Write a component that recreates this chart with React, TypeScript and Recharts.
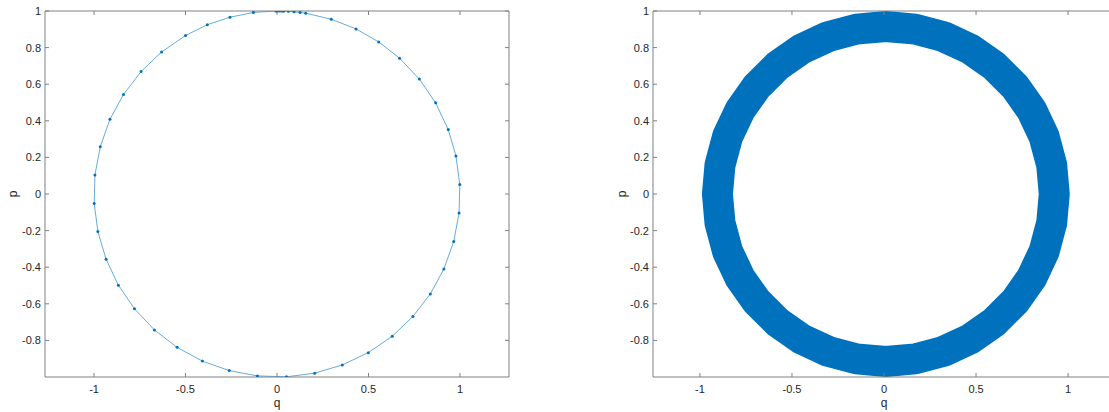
import { LineChart, Line, XAxis, YAxis } from 'recharts'

// left panel: trajectory samples (q, p)
const leftQ = [
  0.0, 0.012, 0.024, 0.036, 0.062, 0.093, 0.126, 0.157, 0.297, 0.432, 0.556, 0.67, 0.778, 0.867,
  0.936, 0.978, 0.999, 0.995, 0.966, 0.912, 0.838, 0.743, 0.63, 0.499, 0.357, 0.206, 0.052,
  -0.107, -0.261, -0.408, -0.546, -0.67, -0.779, -0.867, -0.934, -0.979, -0.999, -0.995,
  -0.966, -0.913, -0.839, -0.743, -0.631, -0.5, -0.381, -0.257, -0.129, -0.006,
]
const leftP = [
  1.0, 1.0, 1.0, 0.999, 0.998, 0.996, 0.992, 0.988, 0.955, 0.902, 0.831, 0.742, 0.628, 0.498,
  0.352, 0.208, 0.052, -0.104, -0.259, -0.41, -0.546, -0.669, -0.777, -0.867, -0.934, -0.979,
  -0.999, -0.994, -0.965, -0.913, -0.838, -0.743, -0.627, -0.498, -0.357, -0.205, -0.052,
  0.104, 0.258, 0.408, 0.544, 0.669, 0.776, 0.866, 0.925, 0.966, 0.992, 1.0,
]

// right panel: thick ring vertices
const rightQ = [
  0.01, 0.169, 0.323, 0.468, 0.598, 0.711, 0.802, 0.87, 0.911, 0.925, 0.911, 0.87, 0.802, 0.711,
  0.598, 0.468, 0.323, 0.169, 0.01, -0.149, -0.303, -0.448, -0.578, -0.691, -0.782, -0.85,
  -0.891, -0.905, -0.891, -0.85, -0.782, -0.691, -0.578, -0.448, -0.303, -0.149, 0.01,
]
const rightP = [
  0.915, 0.901, 0.86, 0.792, 0.701, 0.588, 0.458, 0.313, 0.159, 0.0, -0.159, -0.313, -0.458,
  -0.588, -0.701, -0.792, -0.86, -0.901, -0.915, -0.901, -0.86, -0.792, -0.701, -0.588,
  -0.458, -0.313, -0.159, 0.0, 0.159, 0.313, 0.458, 0.588, 0.701, 0.792, 0.86, 0.901, 0.915,
]

const xTicks = [-1, -0.5, 0, 0.5, 1]
const yTicks = [-0.8, -0.6, -0.4, -0.2, 0, 0.2, 0.4, 0.6, 0.8, 1]

const BLUE = '#0072BD'
const AXIS = '#808080'
const TEXT = '#262626'
const FONT = '"Liberation Sans", Arial, Helvetica, sans-serif'

const tickStyle = { fill: TEXT, fontSize: 11, fontFamily: FONT }
const blank = () => ''

function Axes({ xDomain, yWidth }: { xDomain: [number, number]; yWidth: number }) {
  return [
    <XAxis key="xb" xAxisId="b" dataKey="q" type="number" domain={xDomain} ticks={xTicks}
      allowDataOverflow height={35} stroke={AXIS} tickSize={-4} tickMargin={12} tick={tickStyle} />,
    <XAxis key="xt" xAxisId="t" orientation="top" dataKey="q" type="number" domain={xDomain}
      ticks={xTicks} allowDataOverflow height={1} stroke={AXIS} tickSize={-4} tickFormatter={blank} />,
    <YAxis key="yl" yAxisId="l" type="number" domain={[-1, 1]} ticks={yTicks} allowDataOverflow
      width={yWidth} stroke={AXIS} tickSize={-4} tickMargin={8} tick={tickStyle} />,
    <YAxis key="yr" yAxisId="r" orientation="right" type="number" domain={[-1, 1]} ticks={yTicks}
      allowDataOverflow width={1} stroke={AXIS} tickSize={-4} tickFormatter={blank} />,
  ]
}

const label = (left: number, top: number, text: string, rotate = false) => (
  <div style={{
    position: 'absolute', left, top, fontFamily: FONT, fontSize: 12, color: TEXT,
    transform: `translate(-50%, -50%)${rotate ? ' rotate(-90deg)' : ''}`, lineHeight: 1,
  }}>{text}</div>
)

export default function App() {
  const leftData = leftQ.map((q, i) => ({ q, p: leftP[i] }))
  const rightData = rightQ.map((q, i) => ({ q, p: rightP[i] }))

  return (
    <div style={{ position: 'fixed', left: 0, top: 0, width: 1109, height: 412, overflow: 'hidden', background: '#fff' }}>
      <div style={{ position: 'absolute', left: 0, top: 0 }}>
        <LineChart width={510} height={412} data={leftData} margin={{ top: 10, right: 0, bottom: 0, left: 0 }}>
          {Axes({ xDomain: [-1.268, 1.268], yWidth: 45 })}
          <Line xAxisId="b" yAxisId="l" dataKey="p" type="linear" stroke={BLUE} strokeWidth={0.8}
            strokeOpacity={0.75} dot={{ r: 1.5, fill: BLUE, stroke: 'none', fillOpacity: 1 }}
            isAnimationActive={false} />
        </LineChart>
      </div>
      <div style={{ position: 'absolute', left: 590, top: 0 }}>
        <LineChart width={526} height={412} data={rightData} margin={{ top: 10, right: 0, bottom: 0, left: 0 }}>
          {Axes({ xDomain: [-1.255, 1.255], yWidth: 63 })}
          <Line xAxisId="b" yAxisId="l" dataKey="p" type="linear" stroke={BLUE} strokeWidth={31}
            strokeLinejoin="round" strokeLinecap="round" dot={false} isAnimationActive={false} />
        </LineChart>
      </div>
      {label(13, 194, 'p', true)}
      {label(277, 403, 'q')}
      {label(622, 194, 'p', true)}
      {label(884, 403, 'q')}
    </div>
  )
}
